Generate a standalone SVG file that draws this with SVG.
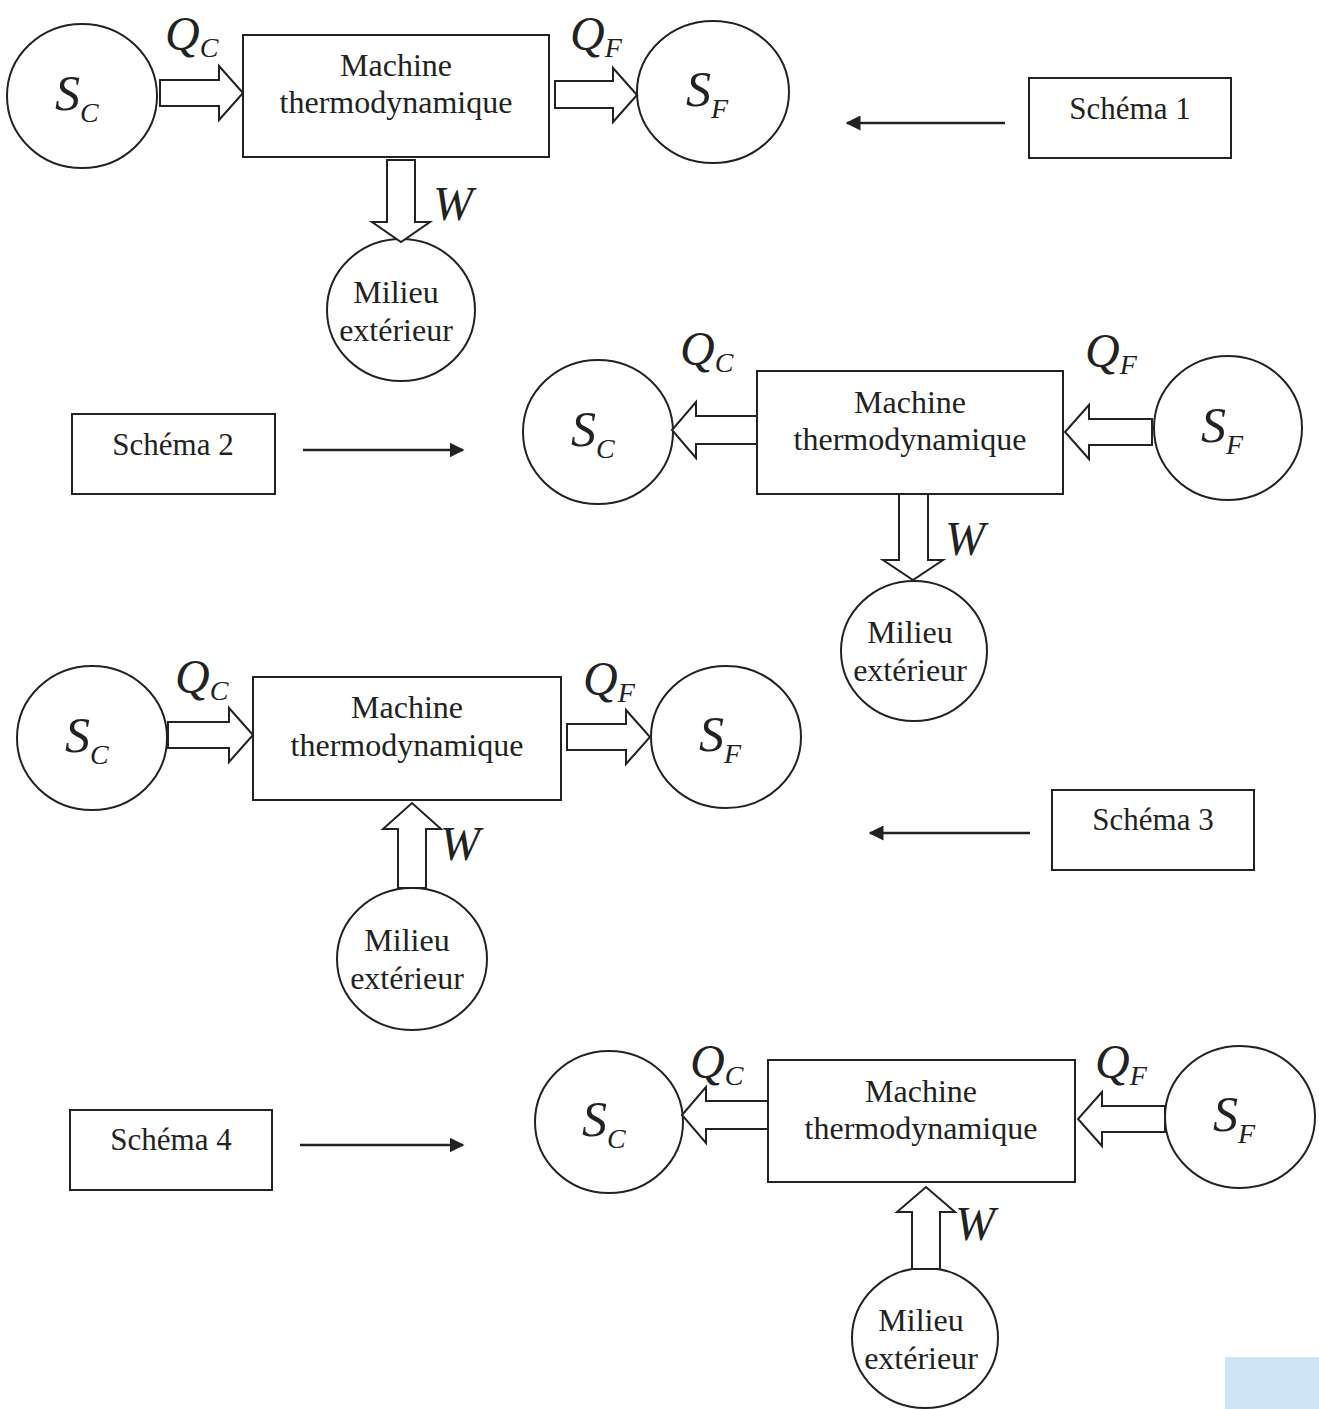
<svg xmlns="http://www.w3.org/2000/svg" width="1319" height="1409" viewBox="0 0 1319 1409">
<defs>
<style>
.bg{fill:#ffffff}
.shape{fill:#ffffff;stroke:#222;stroke-width:2}
.blk{fill:#ffffff;stroke:#222;stroke-width:2;stroke-linejoin:miter}
.line{fill:none;stroke:#222;stroke-width:2.5}
.t{font-family:"Liberation Serif","Times New Roman",serif;font-size:32px;fill:#222;text-anchor:middle}
.l{font-family:"Liberation Serif","Times New Roman",serif;font-size:31px;fill:#222;text-anchor:middle}
.m{font-family:"Liberation Serif","Times New Roman",serif;font-size:32px;fill:#222;text-anchor:middle}
.s{font-family:"Liberation Serif","Times New Roman",serif;font-style:italic;font-size:50px;fill:#222}
.q{font-family:"Liberation Serif","Times New Roman",serif;font-style:italic;font-size:48px;fill:#222}
.sub{font-size:28px}
</style>
<marker id="ah" viewBox="0 0 10 10" refX="9" refY="5" markerWidth="6" markerHeight="6" orient="auto-start-reverse" markerUnits="strokeWidth">
<path d="M0,0 L10,5 L0,10 Z" fill="#222"/>
</marker>
</defs>
<rect class="bg" x="0" y="0" width="1319" height="1409"/>

<!-- Schema 1 -->
<g id="s1-sc"><ellipse class="shape" cx="82" cy="96" rx="75" ry="72"/><text class="s" x="55" y="110">S<tspan class="sub" dy="12">C</tspan></text></g>
<g id="s1-machine"><rect class="shape" x="243" y="35" width="306" height="122"/><text class="t" x="396" y="76">Machine</text><text class="t" x="396" y="113">thermodynamique</text></g>
<g id="s1-sf"><ellipse class="shape" cx="713" cy="92" rx="76" ry="71"/><text class="s" x="686" y="106">S<tspan class="sub" dy="12">F</tspan></text></g>
<g id="s1-milieu"><ellipse class="shape" cx="401" cy="310" rx="74" ry="71"/><text class="m" x="396" y="303">Milieu</text><text class="m" x="396" y="341">extérieur</text></g>
<g id="s1-label"><rect class="shape" x="1029" y="78" width="202" height="80"/><text class="l" x="1130" y="119">Schéma 1</text></g>

<!-- Schema 2 -->
<g id="s2-label"><rect class="shape" x="72" y="414" width="203" height="80"/><text class="l" x="173" y="455">Schéma 2</text></g>
<g id="s2-sc"><ellipse class="shape" cx="598" cy="432" rx="75" ry="72"/><text class="s" x="571" y="446">S<tspan class="sub" dy="12">C</tspan></text></g>
<g id="s2-machine"><rect class="shape" x="757" y="371" width="306" height="123"/><text class="t" x="910" y="413">Machine</text><text class="t" x="910" y="450">thermodynamique</text></g>
<g id="s2-sf"><ellipse class="shape" cx="1228" cy="428" rx="74" ry="72"/><text class="s" x="1201" y="442">S<tspan class="sub" dy="12">F</tspan></text></g>
<g id="s2-milieu"><ellipse class="shape" cx="914" cy="651" rx="73" ry="70"/><text class="m" x="910" y="643">Milieu</text><text class="m" x="910" y="681">extérieur</text></g>

<!-- Schema 3 -->
<g id="s3-sc"><ellipse class="shape" cx="92" cy="738" rx="75" ry="72"/><text class="s" x="65" y="752">S<tspan class="sub" dy="12">C</tspan></text></g>
<g id="s3-machine"><rect class="shape" x="253" y="677" width="308" height="123"/><text class="t" x="407" y="718">Machine</text><text class="t" x="407" y="756">thermodynamique</text></g>
<g id="s3-sf"><ellipse class="shape" cx="726" cy="737" rx="75" ry="71"/><text class="s" x="699" y="751">S<tspan class="sub" dy="12">F</tspan></text></g>
<g id="s3-milieu"><ellipse class="shape" cx="412" cy="959" rx="75" ry="71"/><text class="m" x="407" y="951">Milieu</text><text class="m" x="407" y="989">extérieur</text></g>
<g id="s3-label"><rect class="shape" x="1052" y="790" width="202" height="80"/><text class="l" x="1153" y="830">Schéma 3</text></g>

<!-- Schema 4 -->
<g id="s4-label"><rect class="shape" x="70" y="1110" width="202" height="80"/><text class="l" x="171" y="1150">Schéma 4</text></g>
<g id="s4-sc"><ellipse class="shape" cx="609" cy="1122" rx="74" ry="71"/><text class="s" x="582" y="1136">S<tspan class="sub" dy="12">C</tspan></text></g>
<g id="s4-machine"><rect class="shape" x="768" y="1060" width="307" height="122"/><text class="t" x="921" y="1102">Machine</text><text class="t" x="921" y="1139">thermodynamique</text></g>
<g id="s4-sf"><ellipse class="shape" cx="1240" cy="1117" rx="75" ry="71"/><text class="s" x="1213" y="1131">S<tspan class="sub" dy="12">F</tspan></text></g>
<g id="s4-milieu"><ellipse class="shape" cx="925" cy="1338" rx="73" ry="70"/><text class="m" x="921" y="1331">Milieu</text><text class="m" x="921" y="1369">extérieur</text></g>

<!-- Connectors -->
<g id="connectors">
<!-- Schema 1 -->
<path class="blk" d="M160,80 L219,80 L219,66 L243,93 L219,120 L219,106 L160,106 Z"/>
<path class="blk" d="M555,81 L613,81 L613,68 L637,95 L613,122 L613,108 L555,108 Z"/>
<path class="blk" d="M387,160 L415,160 L415,222 L430,222 L401,242 L372,222 L387,222 Z"/>
<line class="line" x1="1005" y1="123" x2="847" y2="123" marker-end="url(#ah)"/>
<!-- Schema 2 -->
<line class="line" x1="303" y1="450" x2="463" y2="450" marker-end="url(#ah)"/>
<path class="blk" d="M757,416 L696,416 L696,402 L672,430 L696,458 L696,444 L757,444 Z"/>
<path class="blk" d="M1152,419 L1089,419 L1089,405 L1065,432 L1089,459 L1089,445 L1152,445 Z"/>
<path class="blk" d="M899,494 L928,494 L928,560 L943,560 L913,580 L883,560 L899,560 Z"/>
<!-- Schema 3 -->
<path class="blk" d="M168,722 L229,722 L229,708 L253,735 L229,762 L229,748 L168,748 Z"/>
<path class="blk" d="M567,724 L626,724 L626,710 L650,737 L626,764 L626,750 L567,750 Z"/>
<path class="blk" d="M398,888 L426,888 L426,829 L441,829 L412,803 L383,829 L398,829 Z"/>
<line class="line" x1="1030" y1="833" x2="870" y2="833" marker-end="url(#ah)"/>
<!-- Schema 4 -->
<line class="line" x1="300" y1="1145" x2="463" y2="1145" marker-end="url(#ah)"/>
<path class="blk" d="M768,1101 L706,1101 L706,1087 L682,1115 L706,1143 L706,1129 L768,1129 Z"/>
<path class="blk" d="M1165,1106 L1102,1106 L1102,1092 L1078,1119 L1102,1146 L1102,1132 L1165,1132 Z"/>
<path class="blk" d="M912,1269 L940,1269 L940,1212 L955,1212 L926,1187 L897,1212 L912,1212 Z"/>
</g>

<!-- Flow labels -->
<g id="labels">
<text class="q" x="165" y="50">Q<tspan class="sub" dy="7">C</tspan></text>
<text class="q" x="570" y="50">Q<tspan class="sub" dy="7">F</tspan></text>
<text class="q" x="433" y="220">W</text>
<text class="q" x="680" y="365">Q<tspan class="sub" dy="7">C</tspan></text>
<text class="q" x="1085" y="367">Q<tspan class="sub" dy="7">F</tspan></text>
<text class="q" x="945" y="555">W</text>
<text class="q" x="175" y="693">Q<tspan class="sub" dy="7">C</tspan></text>
<text class="q" x="583" y="695">Q<tspan class="sub" dy="7">F</tspan></text>
<text class="q" x="440" y="860">W</text>
<text class="q" x="690" y="1078">Q<tspan class="sub" dy="7">C</tspan></text>
<text class="q" x="1095" y="1078">Q<tspan class="sub" dy="7">F</tspan></text>
<text class="q" x="955" y="1240">W</text>
</g>

<rect x="1225" y="1357" width="94" height="52" fill="#cfe4f4"/>
</svg>
